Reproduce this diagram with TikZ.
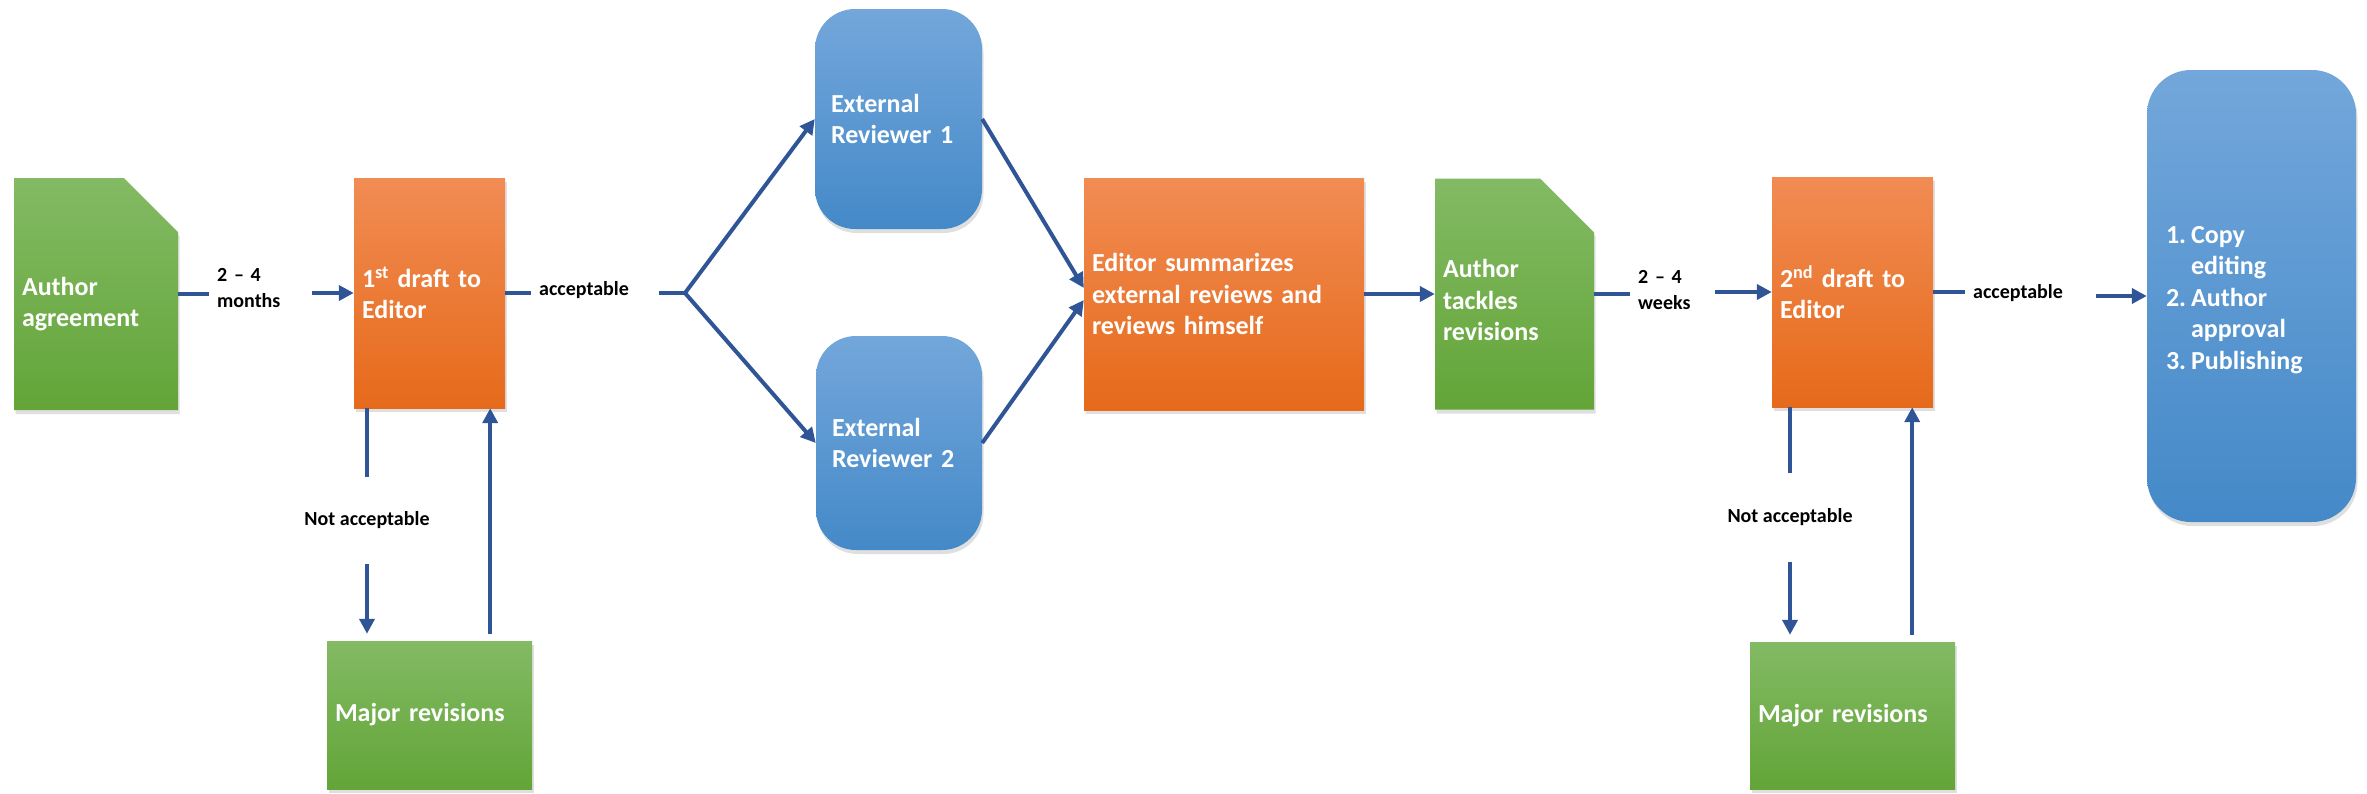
\documentclass[tikz,border=0pt]{standalone}
\usepackage{fontspec}
\setmainfont{Carlito}
\usetikzlibrary{arrows.meta,shapes.misc,shadows}
\definecolor{gtop}{RGB}{131,186,100}
\definecolor{gbot}{RGB}{99,165,56}
\definecolor{otop}{RGB}{241,140,84}
\definecolor{obot}{RGB}{230,106,26}
\definecolor{btop}{RGB}{115,167,219}
\definecolor{bbot}{RGB}{68,137,200}
\definecolor{flowblue}{RGB}{47,85,151}

\begin{document}
\begin{tikzpicture}[x=1pt,y=-1pt,
    box/.style={text=white, align=left, inner xsep=8pt, inner ysep=0pt,
      font=\fontsize{26}{31.5}\selectfont\bfseries,
      drop shadow={shadow xshift=1.5pt, shadow yshift=-4pt, opacity=.25}},
    greenbox/.style={box, top color=gtop, bottom color=gbot},
    docbox/.style={greenbox, chamfered rectangle, chamfered rectangle corners=north east,
      chamfered rectangle sep=27pt, inner xsep=-19pt},
    orangebox/.style={box, top color=otop, bottom color=obot},
    bluebox/.style={box, top color=btop, bottom color=bbot, rounded corners=40pt, inner xsep=16pt},
    lbl/.style={font=\fontsize{20}{26}\selectfont\bfseries, align=left, inner xsep=8pt, inner ysep=0pt},
    flow/.style={draw=flowblue, line width=4pt},
    arr/.style={flow, -{Triangle[length=15pt,width=15pt]}}]
  \useasboundingbox (0,0) rectangle (2367,793);

  \node[docbox, text width=148pt, minimum height=232pt] (agree) at (96,294) {\rule{0pt}{38pt}Author\\agreement};
  \node[orangebox, text width=135pt, minimum height=230pt] (draft1) at (429.5,293) {1\textsuperscript{st} draft to\\Editor};
  \node[bluebox, text width=135pt, minimum height=220pt] (rev1) at (898.5,119) {External\\Reviewer 1};
  \node[bluebox, text width=134pt, minimum height=214pt] (rev2) at (899,443) {External\\Reviewer 2};
  \node[orangebox, text width=264pt, minimum height=232pt] (summ) at (1224,294) {Editor summarizes\\external reviews and\\reviews himself};
  \node[docbox, text width=143pt, minimum height=231pt] (tackle) at (1514.5,294) {\rule{0pt}{31pt}Author\\tackles\\revisions};
  \node[orangebox, text width=145pt, minimum height=230pt] (draft2) at (1852.5,292) {2\textsuperscript{nd} draft to\\Editor};
  \node[bluebox, text width=171pt, inner xsep=19pt, minimum height=452pt, rounded corners=44pt] (publish) at (2251.5,296)
    {\begin{tabular}{@{}l@{\hspace{5pt}}l@{}}1.&\rule{0pt}{30pt}Copy\\&editing\\2.&Author\\&approval\\3.&Publishing\end{tabular}};
  \node[greenbox, text width=189pt, minimum height=148pt] (major1) at (429.5,715) {Major revisions};
  \node[greenbox, text width=189pt, minimum height=147pt] (major2) at (1852.5,715.5) {Major revisions};

  \node[lbl, anchor=west, text width=87pt] (months) at (209,288) {2 -- 4\\months};
  \node[lbl, anchor=west, text width=112pt] (acc1) at (531,290) {acceptable};
  \coordinate (split) at (685,293);
  \node[lbl, anchor=west, text width=69pt] (weeks) at (1630,290) {2 -- 4\\weeks};
  \node[lbl, anchor=west, text width=115pt] (acc2) at (1965,293) {acceptable};
  \node[lbl, minimum height=87pt] (nacc1) at (367,520.5) {Not acceptable};
  \node[lbl, minimum height=89pt] (nacc2) at (1790,517.5) {Not acceptable};

  \draw[flow] (agree.east) -- (agree.east -| months.west);
  \draw[arr] (months.east |- draft1.west) -- (draft1.west);
  \draw[flow] (draft1.east) -- (draft1.east -| acc1.west);
  \draw[flow] (acc1.east |- split) -- (split);
  \draw[arr] (split) -- (rev1.west);
  \draw[arr] (split) -- (rev2.west);
  \draw[arr] (rev1.east) -- ([yshift=6pt]summ.west);
  \draw[arr] (rev2.east) -- ([yshift=-6pt]summ.west);
  \draw[arr] (summ.east) -- (tackle.west);
  \draw[flow] (tackle.east) -- (tackle.east -| weeks.west);
  \draw[arr] (weeks.east |- draft2.west) -- (draft2.west);
  \draw[flow] (draft2.east) -- (draft2.east -| acc2.west);
  \draw[arr] (acc2.east |- publish.west) -- (publish.west);

  \draw[flow] (nacc1.north |- draft1.south) -- (nacc1.north);
  \draw[arr, shorten >=7pt] (nacc1.south) -- (nacc1.south |- major1.north);
  \draw[arr, shorten <=7pt] ([xshift=-15pt]draft1.south east |- major1.north) -- ([xshift=-15pt]draft1.south east);
  \draw[flow] (nacc2.north |- draft2.south) -- (nacc2.north);
  \draw[arr, shorten >=7pt] (nacc2.south) -- (nacc2.south |- major2.north);
  \draw[arr, shorten <=7pt] ([xshift=-21pt]draft2.south east |- major2.north) -- ([xshift=-21pt]draft2.south east);
\end{tikzpicture}
\end{document}
